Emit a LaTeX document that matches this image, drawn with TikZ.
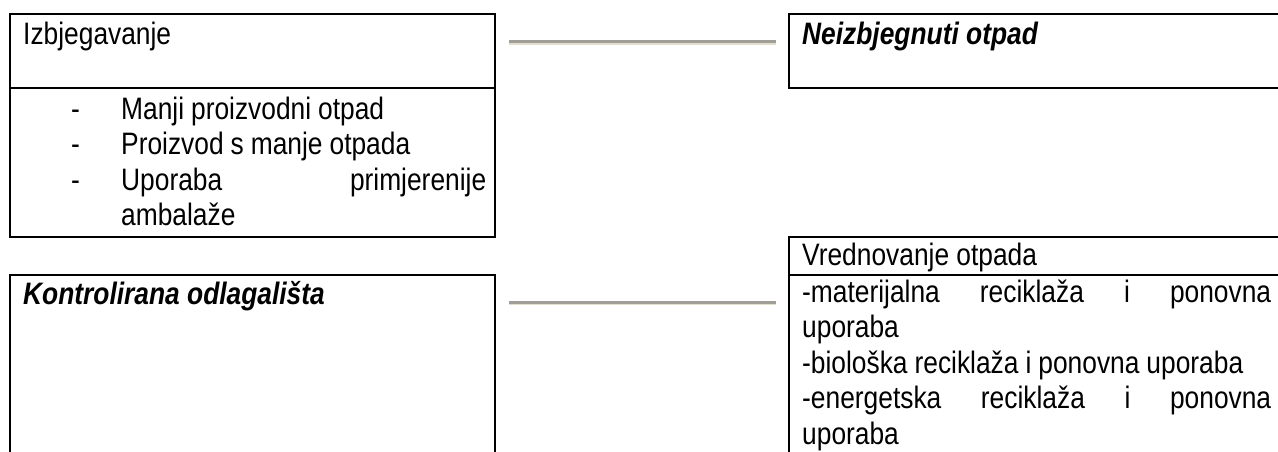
\documentclass[tikz,border=0pt]{standalone}
\usepackage{fontspec}
\setmainfont{Liberation Sans}[FakeStretch=0.85]
\usetikzlibrary{calc}
\definecolor{barDark}{RGB}{160,158,150}
\definecolor{barLight}{RGB}{226,222,206}
\newcommand{\crtica}{\makebox[98pt][l]{\hspace*{48pt}-}}
\newcommand{\razmak}{\spaceskip=7pt plus 3pt minus 2pt\relax}

\begin{document}
\begin{tikzpicture}[x=1pt,y=-1pt,box/.style={draw,line width=2pt,anchor=north west,inner sep=0pt},boxtext/.style={anchor=base west,inner sep=0pt,font=\fontsize{31}{35.5}\selectfont},listtext/.style={anchor=north west,inner sep=0pt,font=\fontsize{31}{35.5}\selectfont},bar/.style={line width=3pt,draw=barDark,shorten <=13pt,shorten >=12pt,postaction={draw=barLight,line width=1.5pt,transform canvas={yshift=-2.2pt}}}]
  \useasboundingbox (0,0) rectangle (1278,452);

  \node[box,minimum width=485pt,minimum height=74pt] (izbjegavanje) at (9,13) {};
  \node[box,minimum width=485pt,minimum height=149pt] (izbjegavanje list) at (9,87) {};
  \node[box,minimum width=520pt,minimum height=74pt] (neizbjegnuti) at (788,13) {};
  \node[box,minimum width=485pt,minimum height=200pt] (kontrolirana) at (9,274) {};
  \node[box,minimum width=520pt,minimum height=38pt] (vrednovanje) at (788,236) {};
  \node[box,minimum width=520pt,minimum height=200pt] (vrednovanje list) at (788,274) {};

  \node[boxtext] (izbjegavanje text) at ($ (izbjegavanje.north west) + (14, 32) $) {Izbjegavanje};
  \node[listtext,text width=463pt] (izbjegavanje items) at ($ (izbjegavanje list.north west) + (14, 7.2) $) {
      \razmak\noindent\strut\crtica Manji proizvodni otpad\\
      \crtica Proizvod s manje otpada\\
      \crtica Uporaba\hfill primjerenije\\
      \hspace*{98pt}ambalaže
    };
  \node[boxtext] (neizbjegnuti text) at ($ (neizbjegnuti.north west) + (14, 32) $) {\textbf{\textit{Neizbjegnuti otpad}}};
  \node[boxtext] (kontrolirana text) at ($ (kontrolirana.north west) + (14, 30) $) {\textbf{\textit{Kontrolirana odlagališta}}};
  \node[boxtext] (vrednovanje text) at ($ (vrednovanje.north west) + (14, 29) $) {Vrednovanje otpada};
  \node[listtext,text width=469pt] (vrednovanje items) at ($ (vrednovanje list.north west) + (14, 3.2) $) {
      \razmak\noindent\strut-materijalna\hfill reciklaža\hfill i\hfill ponovna\\
      uporaba\\
      -biološka reciklaža i ponovna uporaba\\
      -energetska\hfill reciklaža\hfill i\hfill ponovna\\
      uporaba
    };

  \draw[bar] ([yshift=9pt]izbjegavanje.east) -- ([yshift=9pt]neizbjegnuti.west);
  \draw[bar] ([yshift=-28.5pt]kontrolirana.north east) -- ([yshift=-28.5pt]vrednovanje list.north west);
\end{tikzpicture}
\end{document}
